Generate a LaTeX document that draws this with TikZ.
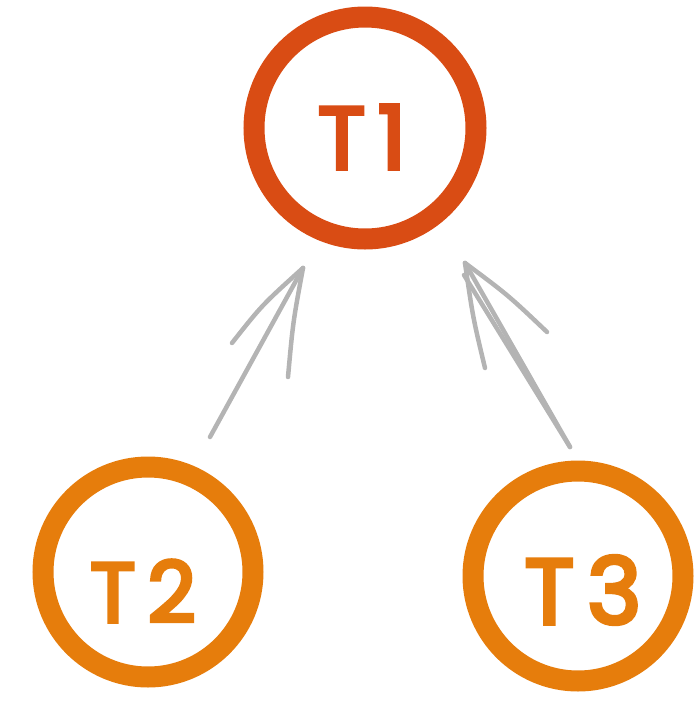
\documentclass[tikz,border=0pt]{standalone}
\usepackage{fontspec}
\setmainfont{Poppins}
\newfontfamily\markerfont{Poppins}[FakeBold=4.5, LetterSpace=14]
\definecolor{rootred}{HTML}{D94C14}
\definecolor{leaforange}{HTML}{E67D0C}
\definecolor{edgegrey}{HTML}{B4B4B4}
\begin{document}
\begin{tikzpicture}[x=1pt,y=-1pt,
  task/.style={circle, draw, line width=21pt, inner sep=0pt},
  rootnode/.style={task, draw=rootred, minimum size=222pt},
  leafnode/.style={task, draw=leaforange, minimum size=210pt},
  label/.style={inner sep=0pt, font=\markerfont\fontsize{#1}{#1}\selectfont},
  depline/.style={draw=edgegrey, line width=4.5pt, line cap=round}]
\useasboundingbox (0,0) rectangle (695,705);
% tasks
\node[rootnode] (t1) at (365,128) {};
\node[leafnode] (t2) at (148,572) {};
\node[leafnode] (t3) at (578,576) {};
\node[label=88, text=rootred] (l1) at (362,137) {T1};
\node[label=84, text=leaforange] (l2) at (143,591) {T2};
\node[label=92, text=leaforange] (l3) at (583,590) {T3};
% arrow ends
\coordinate (a1tail) at (210,437);
\coordinate (a1tip) at (303,268);
\coordinate (a1barbl) at (232,343);
\coordinate (a1barbr) at (288,377);
\coordinate (a2tail) at (570,447);
\coordinate (a2tip) at (465,263);
\coordinate (a2barbl) at (485,368);
\coordinate (a2barbr) at (547,332);
\coordinate (a2tipb) at (464,275);
% T2 depends on T1
\draw[depline] (a1tail) -- (a1tip);
\draw[depline] (a1tip) .. controls (262,305) .. (a1barbl);
\draw[depline] (a1tip) .. controls (293,322) .. (a1barbr);
% T3 depends on T1
\draw[depline] (a2tail) -- (a2tip);
\draw[depline] (a2tipb) -- (a2tail);
\draw[depline] (a2tip) .. controls (473,318) .. (a2barbl);
\draw[depline] (a2tip) .. controls (508,295) .. (a2barbr);
\end{tikzpicture}
\end{document}
